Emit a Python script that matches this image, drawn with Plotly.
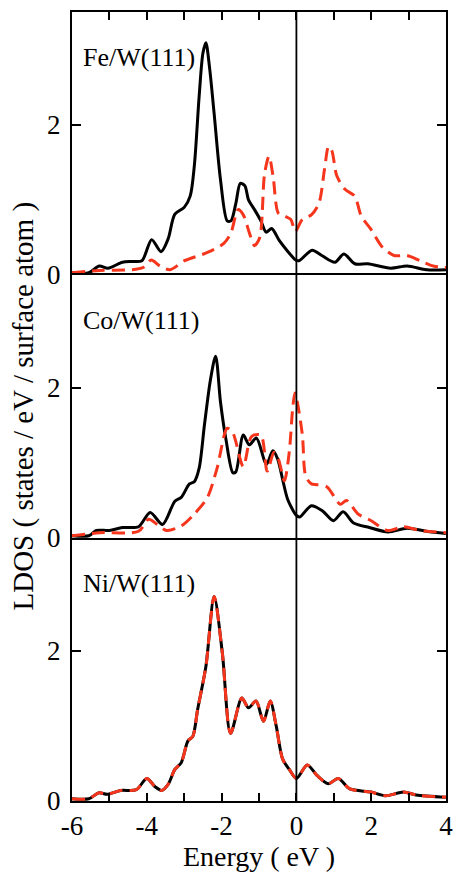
import plotly.graph_objects as go
from plotly.subplots import make_subplots

# ---------------- data ----------------
fe_black_E = [-6.0, -5.55, -5.27, -5.04, -4.65, -4.39, -4.13, -3.87, -3.62, -3.43, -3.25, -3.0, -2.84,
              -2.73, -2.60, -2.50, -2.42, -2.32, -2.20, -2.03, -1.85, -1.75, -1.62, -1.50, -1.38, -1.28,
              -1.12, -0.95, -0.81, -0.66, -0.46, -0.24, -0.02, 0.07, 0.42, 0.68, 1.03, 1.27, 1.56, 1.91,
              2.52, 2.96, 3.48, 4.0]
fe_black = [0.03, 0.03, 0.12, 0.09, 0.17, 0.18, 0.19, 0.47, 0.31, 0.48, 0.81, 0.90, 1.05,
            1.45, 2.38, 2.95, 3.09, 2.75, 2.15, 1.27, 0.72, 0.72, 0.95, 1.22, 1.19, 1.00,
            0.87, 0.72, 0.57, 0.62, 0.46, 0.32, 0.20, 0.19, 0.33, 0.26, 0.17, 0.28, 0.15, 0.15,
            0.09, 0.12, 0.07, 0.07]

fe_red_E = [-6.0, -5.26, -4.39, -4.1, -3.88, -3.65, -3.38, -2.99, -2.38, -1.94, -1.75, -1.56, -1.42,
            -1.25, -1.12, -0.98, -0.85, -0.73, -0.62, -0.48, -0.30, -0.15, -0.03, 0.16, 0.40, 0.60,
            0.75, 0.86, 0.95, 1.08, 1.30, 1.56, 1.73, 1.99, 2.30, 2.61, 2.96, 3.31, 3.66, 4.0]
fe_red = [0.03, 0.06, 0.07, 0.10, 0.20, 0.12, 0.07, 0.19, 0.30, 0.42, 0.56, 0.87, 0.80,
          0.55, 0.39, 0.50, 1.35, 1.58, 1.30, 0.82, 0.78, 0.74, 0.58, 0.74, 0.80, 0.95,
          1.40, 1.71, 1.65, 1.32, 1.14, 1.05, 0.79, 0.61, 0.37, 0.26, 0.26, 0.19, 0.12, 0.10]

co_black_E = [-6.0, -5.55, -5.35, -5.0, -4.65, -4.22, -3.91, -3.58, -3.25, -3.08, -2.86, -2.73, -2.60,
              -2.46, -2.30, -2.16, -2.03, -1.88, -1.70, -1.62, -1.42, -1.26, -1.07, -0.80, -0.63, -0.50,
              -0.36, -0.23, 0.0, 0.09, 0.40, 0.70, 0.99, 1.25, 1.53, 1.95, 2.45, 2.96, 3.48, 4.0]
co_black = [0.03, 0.03, 0.10, 0.10, 0.14, 0.15, 0.34, 0.18, 0.49, 0.54, 0.72, 0.75, 0.93,
            1.50, 2.10, 2.42, 1.81, 1.30, 0.87, 0.88, 1.37, 1.24, 1.33, 0.98, 1.16, 1.05,
            0.76, 0.51, 0.30, 0.28, 0.43, 0.36, 0.23, 0.35, 0.20, 0.14, 0.08, 0.13, 0.09, 0.06]

co_red_E = [-6.0, -5.26, -4.22, -3.95, -3.72, -3.47, -3.08, -2.73, -2.38, -2.12, -1.85, -1.70, -1.42,
            -1.20, -0.95, -0.78, -0.60, -0.48, -0.32, -0.19, -0.10, -0.04, 0.02, 0.16, 0.25, 0.40,
            0.55, 0.82, 1.17, 1.34, 1.65, 2.0, 2.43, 2.87, 3.31, 4.0]
co_red = [0.03, 0.07, 0.09, 0.25, 0.18, 0.10, 0.16, 0.32, 0.54, 0.93, 1.46, 1.40, 0.95,
          1.35, 1.37, 0.89, 1.14, 1.05, 0.76, 1.15, 1.72, 1.93, 1.82, 1.37, 0.82, 0.72,
          0.71, 0.68, 0.45, 0.50, 0.32, 0.23, 0.10, 0.15, 0.10, 0.07]

ni_E = [-6.0, -5.55, -5.28, -5.06, -4.70, -4.28, -4.0, -3.78, -3.60, -3.43, -3.25, -3.08, -2.90,
        -2.77, -2.64, -2.42, -2.20, -1.98, -1.76, -1.46, -1.28, -1.08, -0.88, -0.70, -0.54, -0.37,
        -0.19, 0.0, 0.29, 0.55, 0.85, 1.12, 1.43, 1.99, 2.38, 2.87, 3.2, 4.0]
ni_black = [0.03, 0.03, 0.11, 0.09, 0.14, 0.15, 0.30, 0.19, 0.14, 0.22, 0.42, 0.51, 0.80,
            0.86, 1.22, 1.79, 2.72, 1.97, 0.90, 1.37, 1.24, 1.33, 1.06, 1.33, 1.00, 0.56,
            0.42, 0.30, 0.48, 0.34, 0.23, 0.30, 0.16, 0.12, 0.07, 0.12, 0.08, 0.05]
ni_red = list(ni_black)

panel_labels = ["Fe/W(111)", "Co/W(111)", "Ni/W(111)"]
x_tick_vals = [-6, -5, -4, -3, -2, -1, 0, 1, 2, 3, 4]
x_tick_text = ["-6", "", "-4", "", "-2", "", "0", "", "2", "", "4"]
y_tick_vals = [0, 2]
y_tick_text = ["0", "2"]

# ---------------- figure ----------------
FONT = "Liberation Serif, Times New Roman, serif"
BLACK = "#000000"
RED = "#f5361c"

fig = make_subplots(rows=3, cols=1, shared_xaxes=True, vertical_spacing=0)

series = [
    (fe_black_E, fe_black, fe_red_E, fe_red),
    (co_black_E, co_black, co_red_E, co_red),
    (ni_E, ni_black, ni_E, ni_red),
]
for i, (bx, by, rx, ry) in enumerate(series, start=1):
    fig.add_trace(go.Scatter(x=bx, y=by, mode="lines",
                             line=dict(color=BLACK, width=3, shape="spline", smoothing=0.8),
                             showlegend=False, hoverinfo="skip"), row=i, col=1)
    fig.add_trace(go.Scatter(x=rx, y=ry, mode="lines",
                             line=dict(color=RED, width=3, shape="spline", smoothing=0.8,
                                       dash="13px,7px"),
                             showlegend=False, hoverinfo="skip"), row=i, col=1)
    fig.add_annotation(text=panel_labels[i - 1], xref=f"x{'' if i == 1 else i} domain",
                       yref=f"y{'' if i == 1 else i} domain", x=0.024, y=0.826,
                       xanchor="left", yanchor="middle", showarrow=False,
                       font=dict(family=FONT, size=26, color="black"))

for i in range(1, 4):
    fig.update_yaxes(row=i, col=1, range=[0, 3.5], tickvals=y_tick_vals, ticktext=y_tick_text,
                     ticks="inside", ticklen=9, tickwidth=1.5, tickcolor="black",
                     showline=True, linewidth=2, linecolor="black", mirror="ticks",
                     showgrid=False, zeroline=False, ticklabelstandoff=4,
                     tickfont=dict(family=FONT, size=27, color="black"))
    fig.update_xaxes(row=i, col=1, range=[-6, 4], showline=True, linewidth=2, linecolor="black",
                     showgrid=False, zeroline=False)

fig.update_xaxes(row=1, col=1, side="top", ticks="inside", tickvals=x_tick_vals, ticklen=8,
                 tickwidth=1.5, tickcolor="black", showticklabels=False, mirror=False)
fig.update_xaxes(row=2, col=1, ticks="", showticklabels=False, mirror=True)
fig.update_xaxes(row=3, col=1, ticks="inside", tickvals=x_tick_vals, ticktext=x_tick_text,
                 ticklen=8, tickwidth=1.5, tickcolor="black", showticklabels=True, mirror=False,
                 tickfont=dict(family=FONT, size=27, color="black"),
                 title=dict(text="Energy ( eV )", font=dict(family=FONT, size=28, color="black"),
                            standoff=3))

fig.add_shape(type="line", xref="x", yref="paper", x0=0, x1=0, y0=0, y1=1,
              line=dict(color="black", width=1.8))

fig.add_annotation(text="LDOS ( states / eV / surface atom )", xref="paper", yref="paper",
                   x=-0.131, y=0.5, xanchor="center", yanchor="middle", textangle=-90,
                   showarrow=False, font=dict(family=FONT, size=29, color="black"))

fig.update_layout(width=461, height=872, margin=dict(l=72, r=8, t=12, b=67),
                  plot_bgcolor="white", paper_bgcolor="white", showlegend=False)

fig.write_html("out.html", config={"displayModeBar": False},
               post_script="document.body.style.margin='0';document.body.style.overflow='hidden';")
